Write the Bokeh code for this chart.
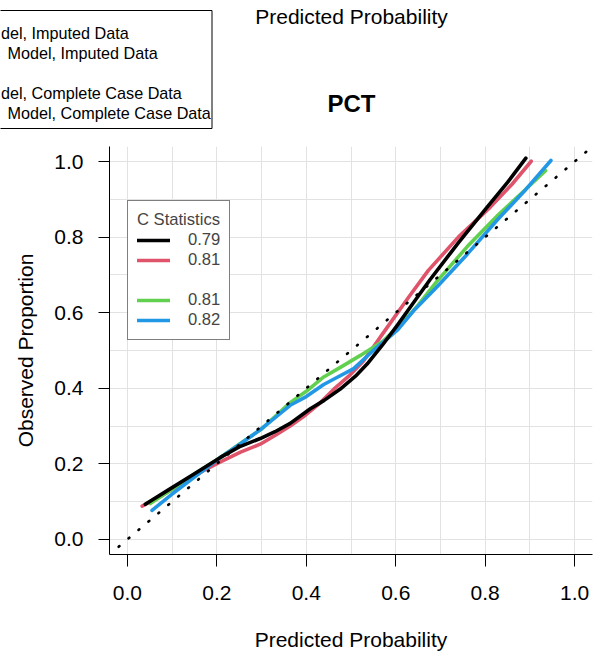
from bokeh.plotting import figure
from bokeh.layouts import column
from bokeh.models import Range1d, FixedTicker, Legend, LegendItem, Slope, PrintfTickFormatter
from bokeh.core.properties import value
from bokeh.embed import file_html
from bokeh.resources import INLINE

FONT = "Liberation Sans"

# ---- data ----
black_x = [0.040, 0.10, 0.15, 0.208, 0.25, 0.297, 0.33, 0.364, 0.409, 0.44, 0.476, 0.51, 0.536, 0.57, 0.603, 0.64, 0.677, 0.74, 0.804, 0.85, 0.891]
black_y = [0.093, 0.137, 0.174, 0.217, 0.245, 0.267, 0.285, 0.307, 0.346, 0.368, 0.398, 0.432, 0.464, 0.514, 0.566, 0.627, 0.688, 0.785, 0.879, 0.945, 1.009]

red_x = [0.033, 0.08, 0.13, 0.17, 0.208, 0.253, 0.297, 0.33, 0.364, 0.394, 0.43, 0.461, 0.495, 0.528, 0.573, 0.63, 0.673, 0.74, 0.811, 0.86, 0.903]
red_y = [0.088, 0.118, 0.153, 0.182, 0.205, 0.231, 0.252, 0.275, 0.300, 0.325, 0.36, 0.397, 0.432, 0.472, 0.548, 0.643, 0.712, 0.80, 0.879, 0.94, 1.001]

green_x = [0.051, 0.10, 0.15, 0.208, 0.25, 0.30, 0.364, 0.40, 0.439, 0.48, 0.521, 0.573, 0.61, 0.65, 0.692, 0.76, 0.83, 0.88, 0.935]
green_y = [0.095, 0.133, 0.173, 0.217, 0.252, 0.292, 0.362, 0.392, 0.43, 0.458, 0.487, 0.526, 0.567, 0.62, 0.683, 0.775, 0.86, 0.915, 0.976]

blue_x = [0.055, 0.10, 0.15, 0.208, 0.253, 0.30, 0.364, 0.40, 0.439, 0.461, 0.506, 0.55, 0.603, 0.64, 0.692, 0.76, 0.826, 0.89, 0.947]
blue_y = [0.077, 0.12, 0.165, 0.217, 0.253, 0.293, 0.355, 0.378, 0.41, 0.424, 0.452, 0.50, 0.553, 0.605, 0.668, 0.755, 0.844, 0.925, 1.003]

c_stats = ["0.79", "0.81", "0.81", "0.82"]
line_colors = ["#000000", "#DF536B", "#61D04F", "#2297E6"]
axis_ticks = [0.0, 0.2, 0.4, 0.6, 0.8, 1.0]
grid_ticks = [0.0, 0.1, 0.2, 0.3, 0.4, 0.5, 0.6, 0.7, 0.8, 0.9, 1.0]
axis_range = [-0.04, 1.04]

top_legend_text = ["del, Imputed Data", "Model, Imputed Data", "del, Complete Case Data", "Model, Complete Case Data"]
panel_title = "PCT"
above_axis_title = "Predicted Probability"

W = 599
TOP_H = 138
MAIN_H = 661 - TOP_H

# ---------- top strip: title and cut-off legend of the neighbouring panel ----------
top = figure(width=W, height=TOP_H, x_range=Range1d(0, W), y_range=Range1d(TOP_H, 0),
             output_backend="svg", toolbar_location=None,
             x_axis_type=None, y_axis_type=None,
             min_border_left=0, min_border_right=0, min_border_top=0, min_border_bottom=0)
top.frame_align = False
top.outline_line_color = None
top.grid.visible = False

top.quad(left=[-20], right=[211.5], top=[10], bottom=[128],
         fill_color="white", line_color="black", line_width=1)
top.text(x=[0.5, 7.0, 0.5, 7.0], y=[32, 52, 92, 112], text=top_legend_text,
         text_font=value(FONT), text_font_size="16.2px", text_baseline="middle",
         text_align="left", text_color="black")
top.text(x=[351], y=[16], text=[above_axis_title], text_font=value(FONT), text_font_size="21px",
         text_baseline="alphabetic", text_align="center", text_color="black")
top.text(x=[351], y=[103], text=[panel_title], text_font=value(FONT), text_font_size="24px",
         text_font_style="bold", text_baseline="alphabetic", text_align="center", text_color="black")

# ---------- main calibration panel ----------
p = figure(width=W, height=MAIN_H,
           x_range=Range1d(*axis_range), y_range=Range1d(*axis_range),
           output_backend="svg", toolbar_location=None,
           min_border_left=109, min_border_right=7, min_border_top=8, min_border_bottom=107)
p.frame_align = False
p.outline_line_color = None
p.background_fill_color = "white"

for ax in (p.xaxis, p.yaxis):
    ax.ticker = FixedTicker(ticks=axis_ticks)
    ax.formatter = PrintfTickFormatter(format="%.1f")
    ax.minor_tick_line_color = None
    ax.major_tick_in = 0
    ax.major_tick_line_color = "black"
    ax.axis_line_color = "black"
    ax.major_label_text_font = FONT
    ax.major_label_text_font_size = "21px"
    ax.major_label_text_color = "black"
    ax.axis_label_text_font = FONT
    ax.axis_label_text_font_size = "21px"
    ax.axis_label_text_font_style = "normal"
    ax.axis_label_text_color = "black"
p.xaxis.major_tick_out = 12
p.xaxis.major_label_standoff = 19
p.xaxis.axis_label_standoff = 25
p.xaxis.axis_label = "Predicted Probability"
p.yaxis.major_tick_out = 11
p.yaxis.major_label_standoff = 15
p.yaxis.axis_label_standoff = 14
p.yaxis.axis_label = "Observed Proportion"

for g in (p.xgrid, p.ygrid):
    g.ticker = FixedTicker(ticks=grid_ticks)
    g.grid_line_color = "#E2E2E2"
    g.grid_line_width = 1

lw = 3.6
r_red = p.line(red_x, red_y, line_color=line_colors[1], line_width=lw, line_cap="round", line_join="round")
r_green = p.line(green_x, green_y, line_color=line_colors[2], line_width=lw, line_cap="round", line_join="round")
r_blue = p.line(blue_x, blue_y, line_color=line_colors[3], line_width=lw, line_cap="round", line_join="round")
r_black = p.line(black_x, black_y, line_color=line_colors[0], line_width=lw, line_cap="round", line_join="round")
r_blank = p.line([], [], line_alpha=0)

p.add_layout(Slope(gradient=1, y_intercept=0, line_color="black", line_width=2.6,
                   line_dash="1 12", line_cap="round", line_dash_offset=1))

legend = Legend(items=[
    LegendItem(label=c_stats[0], renderers=[r_black]),
    LegendItem(label=c_stats[1], renderers=[r_red]),
    LegendItem(label=" ", renderers=[r_blank]),
    LegendItem(label=c_stats[2], renderers=[r_green]),
    LegendItem(label=c_stats[3], renderers=[r_blue]),
], location=(18, 214), title="C Statistics")
legend.title_text_font = FONT
legend.title_text_font_size = "16.6px"
legend.title_text_font_style = "normal"
legend.title_standoff = 0
legend.label_text_font = FONT
legend.label_text_font_size = "16.6px"
legend.border_line_color = "black"
legend.border_line_width = 1
legend.background_fill_alpha = 1
legend.padding = 9
legend.margin = 0
legend.spacing = 0
legend.label_height = 20
legend.glyph_height = 20
legend.glyph_width = 33
legend.label_standoff = 18
p.add_layout(legend, "center")

layout = column(top, p, spacing=0)
open("out.html", "w").write(file_html(layout, INLINE))
